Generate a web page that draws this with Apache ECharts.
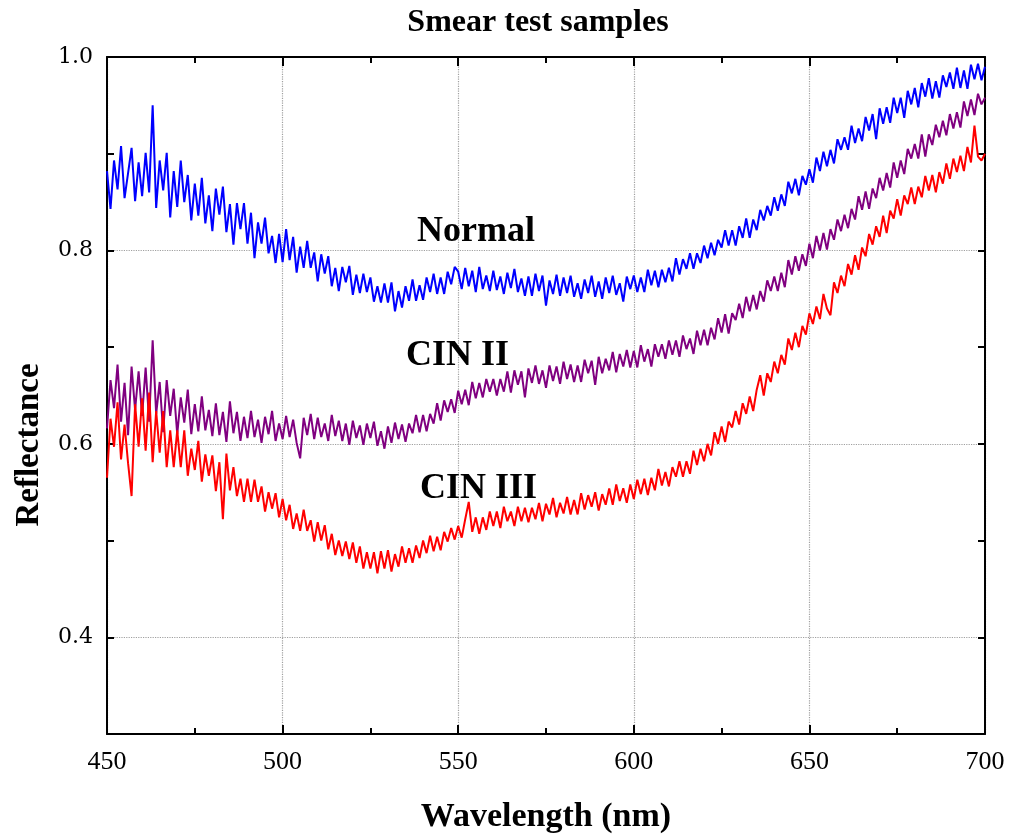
<!DOCTYPE html>
<html>
<head>
<meta charset="utf-8">
<title>Smear test samples</title>
<script src="https://cdn.jsdelivr.net/npm/echarts@6/dist/echarts.min.js"></script>
<style>
  html, body { margin: 0; padding: 0; background: #fff; }
  #chart { width: 1009px; height: 839px; }
</style>
</head>
<body>
<div id="chart"></div>
<script>
// wavelength grid: 450 .. 700 nm, one sample per nm
const startNm = 450;
const stepNm = 1;
const xTicks = [450, 500, 550, 600, 650, 700];
const yTicks = [0.4, 0.6, 0.8, 1.0];

// Normal (blue)
const normal = [
  0.882, 0.843, 0.893, 0.863, 0.908, 0.854, 0.880, 0.906, 0.851, 0.891,
  0.856, 0.901, 0.860, 0.950, 0.844, 0.893, 0.862, 0.901, 0.834, 0.882,
  0.845, 0.893, 0.850, 0.878, 0.831, 0.869, 0.836, 0.875, 0.828, 0.857,
  0.820, 0.864, 0.837, 0.866, 0.819, 0.848, 0.806, 0.849, 0.822, 0.849,
  0.807, 0.839, 0.792, 0.829, 0.807, 0.834, 0.797, 0.815, 0.787, 0.817,
  0.788, 0.822, 0.790, 0.814, 0.777, 0.804, 0.782, 0.810, 0.782, 0.798,
  0.768, 0.796, 0.776, 0.794, 0.763, 0.782, 0.758, 0.783, 0.767, 0.784,
  0.754, 0.775, 0.756, 0.776, 0.757, 0.772, 0.747, 0.763, 0.746, 0.766,
  0.746, 0.767, 0.737, 0.758, 0.741, 0.763, 0.748, 0.770, 0.748, 0.764,
  0.749, 0.772, 0.757, 0.776, 0.755, 0.772, 0.755, 0.778, 0.765, 0.783,
  0.778, 0.760, 0.782, 0.763, 0.779, 0.757, 0.783, 0.760, 0.774, 0.758,
  0.779, 0.759, 0.773, 0.755, 0.777, 0.761, 0.781, 0.757, 0.771, 0.753,
  0.773, 0.753, 0.776, 0.758, 0.774, 0.743, 0.769, 0.755, 0.775, 0.753,
  0.772, 0.756, 0.774, 0.752, 0.766, 0.750, 0.770, 0.756, 0.774, 0.752,
  0.768, 0.750, 0.772, 0.756, 0.774, 0.754, 0.766, 0.747, 0.773, 0.760,
  0.774, 0.757, 0.772, 0.757, 0.780, 0.764, 0.779, 0.762, 0.780, 0.767,
  0.782, 0.768, 0.792, 0.775, 0.791, 0.781, 0.797, 0.781, 0.797, 0.787,
  0.805, 0.792, 0.808, 0.795, 0.811, 0.803, 0.821, 0.805, 0.821, 0.805,
  0.825, 0.813, 0.833, 0.813, 0.832, 0.821, 0.842, 0.831, 0.846, 0.836,
  0.855, 0.841, 0.858, 0.846, 0.871, 0.859, 0.874, 0.857, 0.877, 0.868,
  0.884, 0.870, 0.896, 0.882, 0.902, 0.887, 0.904, 0.890, 0.915, 0.904,
  0.917, 0.904, 0.929, 0.911, 0.926, 0.913, 0.938, 0.924, 0.941, 0.915,
  0.947, 0.931, 0.948, 0.932, 0.958, 0.942, 0.958, 0.937, 0.965, 0.951,
  0.968, 0.948, 0.973, 0.959, 0.978, 0.957, 0.975, 0.958, 0.981, 0.969,
  0.984, 0.967, 0.989, 0.968, 0.986, 0.967, 0.992, 0.977, 0.993, 0.976,
  0.990
];

// CIN II (purple)
const cin2 = [
  0.616, 0.666, 0.637, 0.682, 0.623, 0.663, 0.609, 0.680, 0.635, 0.675,
  0.629, 0.679, 0.623, 0.707, 0.631, 0.664, 0.612, 0.666, 0.629, 0.657,
  0.610, 0.648, 0.622, 0.656, 0.610, 0.641, 0.613, 0.649, 0.614, 0.635,
  0.608, 0.642, 0.609, 0.633, 0.602, 0.644, 0.611, 0.633, 0.603, 0.628,
  0.606, 0.634, 0.607, 0.625, 0.601, 0.628, 0.610, 0.634, 0.603, 0.621,
  0.605, 0.629, 0.607, 0.625, 0.601, 0.585, 0.627, 0.609, 0.631, 0.605,
  0.627, 0.607, 0.621, 0.603, 0.630, 0.608, 0.624, 0.603, 0.621, 0.599,
  0.624, 0.606, 0.619, 0.599, 0.621, 0.606, 0.623, 0.598, 0.613, 0.595,
  0.618, 0.601, 0.622, 0.605, 0.620, 0.602, 0.621, 0.611, 0.630, 0.612,
  0.630, 0.613, 0.631, 0.621, 0.642, 0.624, 0.645, 0.633, 0.646, 0.632,
  0.655, 0.641, 0.656, 0.640, 0.664, 0.647, 0.663, 0.648, 0.667, 0.654,
  0.667, 0.650, 0.667, 0.654, 0.675, 0.653, 0.676, 0.661, 0.675, 0.648,
  0.678, 0.663, 0.681, 0.662, 0.676, 0.658, 0.681, 0.665, 0.680, 0.662,
  0.685, 0.667, 0.682, 0.664, 0.681, 0.664, 0.687, 0.673, 0.686, 0.661,
  0.690, 0.673, 0.688, 0.676, 0.695, 0.674, 0.693, 0.680, 0.697, 0.679,
  0.696, 0.679, 0.702, 0.685, 0.698, 0.680, 0.703, 0.690, 0.703, 0.688,
  0.707, 0.692, 0.707, 0.690, 0.712, 0.698, 0.709, 0.693, 0.717, 0.702,
  0.718, 0.702, 0.720, 0.708, 0.730, 0.715, 0.734, 0.714, 0.735, 0.728,
  0.745, 0.730, 0.752, 0.737, 0.754, 0.739, 0.758, 0.747, 0.769, 0.758,
  0.773, 0.758, 0.777, 0.762, 0.790, 0.775, 0.794, 0.779, 0.796, 0.784,
  0.807, 0.792, 0.815, 0.800, 0.818, 0.801, 0.822, 0.811, 0.832, 0.820,
  0.837, 0.823, 0.843, 0.832, 0.856, 0.842, 0.861, 0.843, 0.864, 0.854,
  0.875, 0.862, 0.880, 0.865, 0.891, 0.875, 0.893, 0.879, 0.905, 0.895,
  0.910, 0.895, 0.920, 0.897, 0.920, 0.909, 0.930, 0.917, 0.934, 0.919,
  0.941, 0.926, 0.943, 0.927, 0.954, 0.939, 0.956, 0.940, 0.962, 0.951,
  0.958
];

// CIN III (red)
const cin3 = [
  0.565, 0.626, 0.597, 0.643, 0.584, 0.620, 0.580, 0.546, 0.641, 0.597,
  0.647, 0.593, 0.653, 0.581, 0.634, 0.591, 0.634, 0.576, 0.614, 0.576,
  0.614, 0.576, 0.614, 0.567, 0.595, 0.573, 0.603, 0.561, 0.589, 0.567,
  0.588, 0.551, 0.581, 0.522, 0.590, 0.552, 0.576, 0.546, 0.564, 0.540,
  0.564, 0.540, 0.563, 0.540, 0.556, 0.530, 0.550, 0.533, 0.549, 0.524,
  0.543, 0.521, 0.537, 0.512, 0.528, 0.510, 0.532, 0.510, 0.521, 0.499,
  0.519, 0.500, 0.516, 0.491, 0.507, 0.485, 0.500, 0.484, 0.499, 0.481,
  0.498, 0.477, 0.494, 0.471, 0.488, 0.471, 0.488, 0.466, 0.489, 0.471,
  0.490, 0.468, 0.486, 0.473, 0.494, 0.477, 0.492, 0.477, 0.495, 0.482,
  0.500, 0.487, 0.505, 0.489, 0.504, 0.490, 0.509, 0.499, 0.513, 0.501,
  0.515, 0.503, 0.522, 0.540, 0.509, 0.524, 0.507, 0.524, 0.511, 0.530,
  0.515, 0.530, 0.513, 0.535, 0.520, 0.530, 0.515, 0.535, 0.520, 0.534,
  0.519, 0.534, 0.522, 0.539, 0.520, 0.538, 0.527, 0.544, 0.524, 0.539,
  0.528, 0.545, 0.527, 0.542, 0.527, 0.549, 0.532, 0.547, 0.535, 0.550,
  0.531, 0.548, 0.537, 0.554, 0.537, 0.558, 0.541, 0.554, 0.539, 0.558,
  0.543, 0.563, 0.548, 0.564, 0.547, 0.565, 0.552, 0.574, 0.557, 0.571,
  0.556, 0.576, 0.566, 0.582, 0.566, 0.582, 0.569, 0.593, 0.578, 0.595,
  0.582, 0.600, 0.588, 0.612, 0.600, 0.618, 0.602, 0.623, 0.617, 0.634,
  0.620, 0.642, 0.631, 0.649, 0.634, 0.656, 0.671, 0.650, 0.673, 0.664,
  0.685, 0.673, 0.692, 0.682, 0.709, 0.697, 0.715, 0.700, 0.722, 0.713,
  0.735, 0.724, 0.742, 0.729, 0.755, 0.740, 0.733, 0.767, 0.756, 0.774,
  0.763, 0.786, 0.775, 0.795, 0.780, 0.803, 0.794, 0.817, 0.806, 0.825,
  0.814, 0.836, 0.818, 0.841, 0.833, 0.853, 0.836, 0.857, 0.848, 0.865,
  0.848, 0.866, 0.855, 0.877, 0.862, 0.878, 0.860, 0.881, 0.869, 0.890,
  0.874, 0.895, 0.881, 0.898, 0.882, 0.907, 0.891, 0.929, 0.897, 0.893,
  0.900
];

const seriesNames = ["Normal", "CIN II", "CIN III"];
const seriesColors = ["#0000ff", "#800080", "#ff0000"];
const seriesValues = [normal, cin2, cin3];

const serifFont = "'Liberation Serif', 'DejaVu Serif', serif";
const labelFont = "'DejaVu Serif', 'Liberation Serif', serif";

// [wavelength, reflectance] pairs
function toPairs(values) {
  return values.map((v, i) => [startNm + i * stepNm, v]);
}

let myChart = echarts.init(document.getElementById("chart"));

let series = [];
for (let i = 0; i < seriesValues.length; i++) {
  series.push({
    name: seriesNames[i],
    type: "line",
    data: toPairs(seriesValues[i]),
    symbol: "none",
    smooth: false,
    animation: false,
    lineStyle: { color: seriesColors[i], width: 2 },
    z: 3 + i
  });
}

// axis box style shared by the four sides
const boxLine = { show: true, onZero: false, lineStyle: { color: "#000", width: 2 } };

let option = {
  backgroundColor: "#fff",
  animation: false,
  title: {
    text: "Smear test samples",
    left: 533,
    textAlign: "center",
    top: 2,
    textStyle: { fontFamily: serifFont, fontWeight: "bold", fontSize: 32, color: "#000" }
  },
  grid: { left: 107, right: 24, top: 57, bottom: 99, containLabel: false },
  xAxis: [
    {
      type: "value",
      min: 450,
      max: 700,
      interval: 50,
      name: "Wavelength (nm)",
      nameLocation: "middle",
      nameGap: 66,
      nameTextStyle: { fontFamily: serifFont, fontWeight: "bold", fontSize: 34, color: "#000" },
      axisLine: boxLine,
      axisTick: { show: true, inside: true, length: 9, lineStyle: { color: "#000", width: 2 } },
      minorTick: { show: true, splitNumber: 2, length: 6, lineStyle: { color: "#000", width: 2 } },
      axisLabel: {
        show: true,
        margin: 15,
        fontFamily: serifFont,
        fontSize: 26,
        color: "#000",
        formatter: (v) => (xTicks.indexOf(v) >= 0 ? String(v) : "")
      },
      splitLine: { show: true, lineStyle: { color: "#a0a0a0", type: "dotted", width: 1.2 } }
    },
    {
      type: "value",
      position: "top",
      min: 450,
      max: 700,
      interval: 50,
      axisLine: boxLine,
      axisTick: { show: true, inside: true, length: 9, lineStyle: { color: "#000", width: 2 } },
      minorTick: { show: true, splitNumber: 2, length: 6, lineStyle: { color: "#000", width: 2 } },
      axisLabel: { show: false },
      splitLine: { show: false }
    }
  ],
  yAxis: [
    {
      type: "value",
      min: 0.3,
      max: 1.0,
      interval: 0.1,
      axisLine: boxLine,
      axisTick: { show: true, inside: true, length: 7, lineStyle: { color: "#000", width: 2 } },
      axisLabel: {
        show: true,
        margin: 14,
        fontFamily: labelFont,
        fontSize: 22,
        color: "#000",
        formatter: (v) => {
          let hit = yTicks.some((t) => Math.abs(t - v) < 1e-6);
          return hit ? v.toFixed(1) : "";
        }
      },
      // every other line (0.4, 0.6, 0.8, 1.0) drawn, others transparent
      splitLine: {
        show: true,
        lineStyle: { color: ["rgba(0,0,0,0)", "#a0a0a0"], type: "dotted", width: 1.2 }
      }
    },
    {
      type: "value",
      position: "right",
      min: 0.3,
      max: 1.0,
      interval: 0.1,
      axisLine: boxLine,
      axisTick: { show: true, inside: true, length: 7, lineStyle: { color: "#000", width: 2 } },
      axisLabel: { show: false },
      splitLine: { show: false }
    }
  ],
  graphic: [
    {
      // y axis title
      type: "text",
      x: 29,
      y: 445,
      rotation: Math.PI / 2,
      style: {
        text: "Reflectance",
        fontFamily: serifFont,
        fontWeight: "bold",
        fontSize: 33,
        fill: "#000",
        align: "center",
        verticalAlign: "middle"
      },
      z: 10
    },
    {
      type: "text",
      left: 417,
      top: 214,
      style: { text: "Normal", fontFamily: serifFont, fontWeight: "bold", fontSize: 36, fill: "#000" },
      z: 10
    },
    {
      type: "text",
      left: 406,
      top: 338,
      style: { text: "CIN II", fontFamily: serifFont, fontWeight: "bold", fontSize: 36, fill: "#000" },
      z: 10
    },
    {
      type: "text",
      left: 420,
      top: 471,
      style: { text: "CIN III", fontFamily: serifFont, fontWeight: "bold", fontSize: 36, fill: "#000" },
      z: 10
    }
  ],
  series: series
};

option && myChart.setOption(option);
</script>
</body>
</html>
